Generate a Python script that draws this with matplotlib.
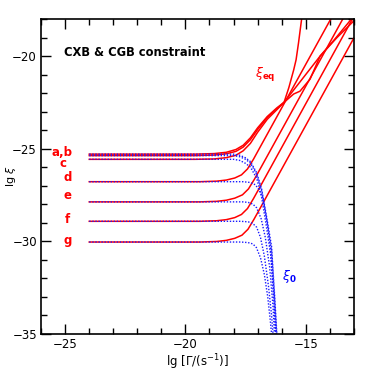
import matplotlib
matplotlib.use('Agg')
import matplotlib.pyplot as plt
from matplotlib.ticker import MultipleLocator

# red curves: xi_eq (lg Gamma, lg xi)
red_a = [(-24, -25.30), (-19.6, -25.30), (-18.8, -25.27), (-18.3, -25.2), (-17.9, -25.05),
         (-17.6, -24.82), (-17.3, -24.42), (-17.0, -23.88), (-16.6, -23.27), (-16.2, -22.8),
         (-15.9, -22.5), (-15.7, -21.7), (-15.5, -20.75), (-15.4, -20.2), (-15.3, -19.3),
         (-15.17, -18.0)]
red_b = [(-24, -25.38), (-19.6, -25.38), (-18.8, -25.35), (-18.3, -25.28), (-17.9, -25.15),
         (-17.6, -24.92), (-17.3, -24.52), (-17.0, -23.97), (-16.6, -23.32), (-16.2, -22.85),
         (-15.9, -22.5), (-15.45, -21.75), (-15.0, -21.0), (-14.7, -20.5), (-14.4, -20.0),
         (-13.8, -19.1), (-13.1, -18.0)]
red_c = [(-24, -25.58), (-19.6, -25.58), (-18.8, -25.56), (-18.3, -25.49), (-17.9, -25.36),
         (-17.6, -25.12), (-17.3, -24.72), (-17.0, -24.12), (-16.6, -23.42), (-16.2, -22.9),
         (-15.9, -22.5), (-15.5, -22.05), (-15.24, -21.9), (-14.82, -21.25), (-14.4, -20.0),
         (-13.7, -19.0), (-13.0, -18.1)]
red_d = [(-24, -26.79), (-19.4, -26.79), (-18.7, -26.76), (-18.3, -26.7), (-17.95, -26.59),
         (-17.67, -26.42), (-17.42, -26.1), (-17.17, -25.57), (-16.87, -24.86), (-13.96, -18.0)]
red_e = [(-24, -27.88), (-19.4, -27.88), (-18.7, -27.85), (-18.3, -27.79), (-17.95, -27.68),
         (-17.63, -27.5), (-17.38, -27.18), (-17.13, -26.65), (-16.83, -25.95), (-13.46, -18.0)]
red_f = [(-24, -28.93), (-19.4, -28.93), (-18.7, -28.9), (-18.3, -28.84), (-17.95, -28.73),
         (-17.67, -28.56), (-17.42, -28.24), (-17.17, -27.7), (-16.87, -27.0), (-13.06, -18.0)]
red_g = [(-24, -30.05), (-19.4, -30.05), (-18.7, -30.02), (-18.3, -29.96), (-17.95, -29.85),
         (-17.65, -29.68), (-17.4, -29.36), (-17.15, -28.82), (-16.85, -28.12), (-13.0, -19.03)]

# blue dotted curves: xi_0
blue_a = [(-24, -25.30), (-18.0, -25.30), (-17.74, -25.36), (-17.5, -25.5), (-17.3, -25.7),
          (-17.04, -26.3), (-16.83, -27.2), (-16.63, -28.66), (-16.42, -30.28), (-16.28, -33.2),
          (-16.2, -35)]
blue_b = [(-24, -25.38), (-18.0, -25.38), (-17.74, -25.44), (-17.5, -25.58), (-17.3, -25.78),
          (-17.04, -26.38), (-16.83, -27.3), (-16.63, -28.8), (-16.42, -30.5), (-16.28, -33.4),
          (-16.21, -35)]
blue_c = [(-24, -25.58), (-18.0, -25.58), (-17.74, -25.64), (-17.5, -25.8), (-17.3, -26.0),
          (-17.04, -26.6), (-16.85, -27.5), (-16.66, -29.0), (-16.46, -30.7), (-16.31, -33.5),
          (-16.24, -35)]
blue_d = [(-24, -26.79), (-17.6, -26.79), (-17.32, -26.83), (-17.1, -26.95), (-16.95, -27.2),
          (-16.77, -27.75), (-16.6, -29.0), (-16.45, -30.6), (-16.32, -33.0), (-16.25, -35)]
blue_e = [(-24, -27.88), (-17.6, -27.88), (-17.39, -27.91), (-17.2, -28.0), (-17.04, -28.2),
          (-16.85, -28.8), (-16.68, -29.8), (-16.5, -31.4), (-16.36, -33.5), (-16.3, -35)]
blue_f = [(-24, -28.93), (-17.7, -28.93), (-17.39, -28.96), (-17.2, -29.05), (-17.04, -29.25),
          (-16.88, -29.8), (-16.72, -30.8), (-16.55, -32.4), (-16.42, -34.0), (-16.36, -35)]
blue_g = [(-24, -30.05), (-17.7, -30.05), (-17.4, -30.08), (-17.2, -30.15), (-17.05, -30.35),
          (-16.88, -30.9), (-16.72, -31.8), (-16.58, -33.0), (-16.48, -34.2), (-16.42, -35)]

curve_labels = ['a,b', 'c', 'd', 'e', 'f', 'g']
label_x = [-25.15, -25.1, -24.9, -24.9, -24.9, -24.9]
label_y = [-25.2, -25.82, -26.55, -27.55, -28.85, -29.95]

fig = plt.figure(figsize=(3.74, 3.74), dpi=100)
ax = fig.add_axes([0.11, 0.108, 0.836, 0.841])

for c in [red_a, red_b, red_c, red_d, red_e, red_f, red_g]:
    ax.plot([p[0] for p in c], [p[1] for p in c], color='#ff0000', lw=1.1)
for c in [blue_a, blue_b, blue_c, blue_d, blue_e, blue_f, blue_g]:
    ax.plot([p[0] for p in c], [p[1] for p in c], color='#1a1aff', lw=1.0, ls=(0, (1, 1.2)))

for t, x, y in zip(curve_labels, label_x, label_y):
    ax.text(x, y, t, color='#ff0000', fontsize=8.5, fontweight='bold', ha='center', va='center')

ax.text(-16.7, -21.0, r'$\xi_{\mathbf{eq}}$', color='#ff0000', fontsize=9, ha='center', va='center')
ax.text(-15.7, -31.9, r'$\xi_{\mathbf{0}}$', color='#0000ff', fontsize=9, ha='center', va='center')
ax.text(-25.05, -19.8, 'CXB & CGB constraint', fontsize=8.3, fontweight='bold', ha='left', va='center')

ax.set_xlim(-26, -13)
ax.set_ylim(-35, -18)
ax.xaxis.set_major_locator(MultipleLocator(5))
ax.xaxis.set_minor_locator(MultipleLocator(1))
ax.yaxis.set_major_locator(MultipleLocator(5))
ax.yaxis.set_minor_locator(MultipleLocator(1))
ax.tick_params(which='both', direction='in', top=True, right=True, width=1.0, labelsize=8.5)
ax.tick_params(which='major', length=7)
ax.tick_params(which='minor', length=4)
ax.tick_params(axis='y', pad=3)
for s in ax.spines.values():
    s.set_linewidth(1.2)

ax.set_xlabel(r'lg $[\Gamma/(\mathrm{s}^{-1})]$', fontsize=8.5, labelpad=1)
ax.set_ylabel(r'lg $\xi$', fontsize=8)
ax.yaxis.set_label_coords(-0.075, 0.5)

fig.savefig('out.png', dpi=100)
